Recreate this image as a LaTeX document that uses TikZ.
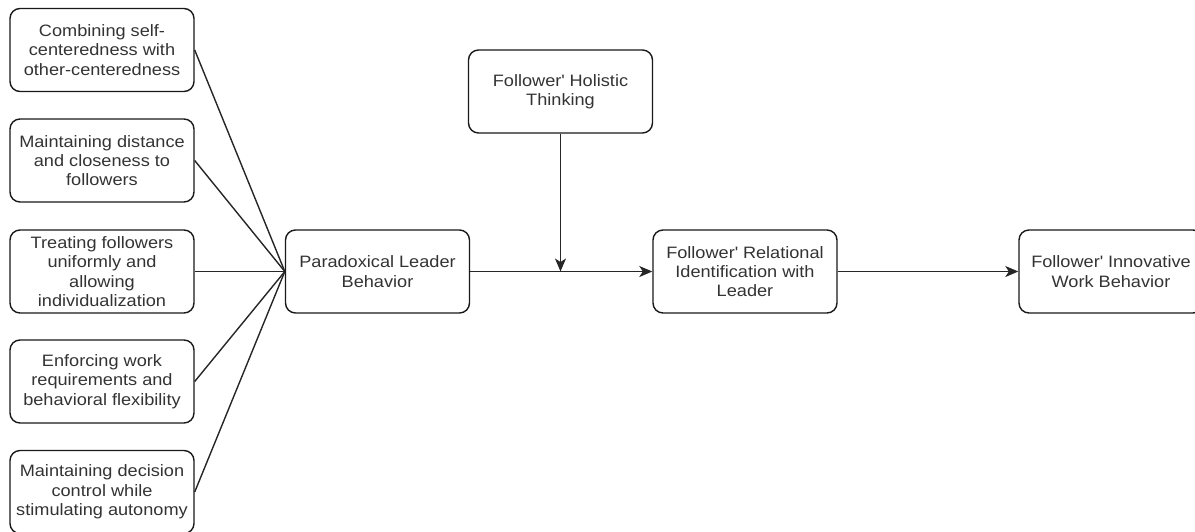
\documentclass[tikz,border=0pt]{standalone}
\usepackage{fontspec}
\setmainfont{Liberation Sans}[FakeStretch=1.1]
\usetikzlibrary{arrows.meta}
\definecolor{txt}{HTML}{333333}
\newcommand{\sq}{\textquotesingle}
\tikzset{
  box/.style={draw=black!90, line width=1.4pt, rounded corners=10pt, minimum width=184pt, minimum height=83pt, align=center, text=txt, font=\fontsize{16.5}{19.3}\selectfont, inner sep=2pt},
  link/.style={draw=black!85, line width=1.4pt},
  arr/.style={link, -{Stealth[length=13pt,width=11pt,inset=3.5pt]}}
}
\begin{document}
\begin{tikzpicture}[x=1pt,y=-1pt]
\useasboundingbox (0,0) rectangle (1195,531);
\begin{scope}
\clip (0,0) rectangle (1195,531);
\node[box] (b1) at (102,50) {Combining self-\\centeredness with\\other-centeredness};
\node[box] (b2) at (102,160.5) {Maintaining distance\\and closeness to\\followers};
\node[box] (b3) at (102,271.5) {Treating followers\\uniformly and\\allowing\\individualization};
\node[box] (b4) at (102,381.5) {Enforcing work\\requirements and\\behavioral flexibility};
\node[box] (b5) at (102,492) {Maintaining decision\\control while\\stimulating autonomy};
\node[box] (plb) at (377.5,271.5) {Paradoxical Leader\\Behavior};
\node[box] (hol) at (560.5,91.5) {Follower\sq{} Holistic\\Thinking};
\node[box] (rel) at (745,271.5) {Follower\sq{} Relational\\Identification with\\Leader};
\node[box] (inn) at (1111,271.5) {Follower\sq{} Innovative\\Work Behavior};
\coordinate (mid) at (hol.south |- plb.east);
\foreach \b in {b1,b2,b3,b4,b5} \draw[link] (\b.east) -- (plb.west);
\draw[arr] (plb.east) -- (rel.west);
\draw[arr] (hol.south) -- (mid);
\draw[arr] (rel.east) -- (inn.west);
\end{scope}
\end{tikzpicture}
\end{document}
